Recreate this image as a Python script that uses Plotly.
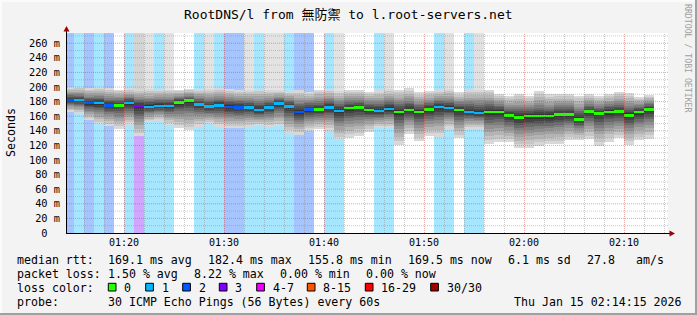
import plotly.graph_objects as go
from datetime import datetime, timedelta

# ---------------- data ----------------
first_bin = "2026-01-15 01:14:00"          # start of first one-minute bin
median_ms = [182.4, 182.0, 177.8, 177.8, 174.8, 175.0, 177.8, 173.8, 172.8, 174.2,
             174.0, 178.5, 181.4, 176.2, 173.0, 174.8, 172.8, 171.9, 171.9, 168.6,
             171.9, 177.2, 173.5, 166.1, 169.0, 169.1, 171.9, 167.4, 171.0, 171.9,
             168.7, 167.3, 170.1, 166.0, 168.7, 166.0, 169.1, 172.3, 171.0, 168.7,
             166.0, 164.6, 166.0, 166.0, 161.0, 158.5, 160.0, 160.0, 160.0, 162.3,
             162.3, 155.8, 166.2, 163.8, 166.0, 166.2, 161.0, 165.8, 169.5]
rtt_max = [200.0, 200.5, 199.0, 200.0, 198.4, 196.6, 198.4, 196.6, 197.0, 196.6,
           196.6, 196.6, 197.5, 197.5, 197.5, 198.4, 197.5, 196.6, 195.6, 197.5,
           195.6, 195.6, 194.7, 195.6, 193.8, 196.6, 197.5, 194.7, 196.6, 195.6,
           193.8, 195.6, 197.5, 196.6, 198.2, 192.5, 194.7, 195.6, 197.5, 192.5,
           196.6, 196.6, 196.6, 191.0, 188.3, 191.1, 188.3, 194.7, 190.2, 191.1,
           191.1, 188.3, 191.1, 187.4, 190.2, 193.8, 192.0, 186.5, 189.2]
rtt_min = [166.0, 163.6, 154.5, 149.0, 146.3, 142.2, 148.1, 132.6, 151.8, 153.6,
           148.1, 143.5, 140.8, 145.4, 149.0, 145.4, 143.5, 143.5, 145.4, 146.3,
           145.4, 146.3, 136.2, 134.4, 139.9, 142.6, 139.9, 127.1, 130.7, 132.6,
           139.0, 143.5, 143.5, 120.7, 136.2, 125.5, 132.6, 131.6, 142.6, 129.8,
           142.6, 142.6, 122.5, 124.3, 124.3, 116.6, 116.6, 119.8, 121.6, 121.6,
           128.0, 127.0, 128.9, 118.9, 125.2, 129.8, 120.7, 127.0, 128.9]
loss = [2, 1, 2, 1, 2, 0, 1, 3, 1, 1,
        1, 0, 0, 1, 1, 1, 2, 2, 1, 1,
        1, 1, 1, 2, 2, 0, 1, 1, 0, 0,
        0, 1, 1, 0, 0, 0, 0, 1, 1, 0,
        1, 1, 0, 0, 0, 0, 0, 0, 0, 0,
        0, 0, 0, 0, 0, 0, 0, 0, 0]
# grey level of the area above the smoke (0 = none)
upper_gray = [0, 0, 0, 0, 0, 0, 0, 212, 227, 0,
              227, 0, 0, 0, 227, 0, 0, 0, 227, 0,
              227, 227, 0, 0, 0, 0, 0, 227, 0, 0,
              0, 0, 225, 0, 0, 0, 0, 0, 225, 0,
              0, 225, 0, 0, 0, 0, 0, 0, 0, 0,
              0, 0, 0, 0, 0, 0, 0, 0, 0]
y_tick_vals = [0, 20, 40, 60, 80, 100, 120, 140, 160, 180, 200, 220, 240, 260]
y_tick_text = ["0\u00a0\u00a0", "20 m", "40 m", "60 m", "80 m", "100 m", "120 m", "140 m",
               "160 m", "180 m", "200 m", "220 m", "240 m", "260 m"]
x_tick_times = ["2026-01-15 01:20", "2026-01-15 01:30", "2026-01-15 01:40",
                "2026-01-15 01:50", "2026-01-15 02:00", "2026-01-15 02:10"]
loss_labels = ["0", "1", "2", "3", "4-7", "8-15", "16-29", "30/30"]
loss_colors = ["#26ff00", "#00b8ff", "#0059ff", "#7e00ff", "#ee00ff", "#ff5500", "#ff0000", "#a10000"]

# ---------------- geometry / style ----------------
W, H = 697, 315
L, T, PW, PH = 67, 33, 601, 200
Y_TOP = 274.0
FONT = "DejaVu Sans Mono, Noto Sans CJK TC, monospace"


def bg_of(hexcol, a=0.35):
    h = hexcol.lstrip('#')
    r, g, b = int(h[0:2], 16), int(h[2:4], 16), int(h[4:6], 16)
    f = lambda c: round(255 * (1 - a) + c * a)
    return "rgb(%d,%d,%d)" % (f(r), f(g), f(b))


def px(xp):
    return (xp - L) / PW


def py(yp):
    return (T + PH - yp) / PH


t0 = datetime.strptime(first_bin, "%Y-%m-%d %H:%M:%S")
times = [t0 + timedelta(seconds=30 + 60 * i) for i in range(len(median_ms))]
x_start = datetime(2026, 1, 15, 1, 14, 18)
x_end = x_start + timedelta(seconds=PW * 6)   # 10 px per minute

fig = go.Figure()


def add_bar(base, height, colors):
    fig.add_trace(go.Bar(x=times, y=height, base=base, width=60000,
                         marker=dict(color=colors, line=dict(width=0)),
                         hoverinfo='skip', showlegend=False))


# loss background (full height)
add_bar([0] * len(times), [Y_TOP] * len(times),
        ["#ffffff" if l == 0 else bg_of(loss_colors[l]) for l in loss])
# area above smoke
add_bar(rtt_max, [Y_TOP - m for m in rtt_max],
        [("rgb(%d,%d,%d)" % (g, g, g)) if g else ("#ffffff" if l == 0 else bg_of(loss_colors[l]))
         for g, l in zip(upper_gray, loss)])
# smoke layers (outer light -> inner dark)
fracs = [1.0, 0.88, 0.76, 0.64, 0.53, 0.43, 0.34, 0.25, 0.17, 0.09]
grays = [0xd8, 0xc6, 0xb4, 0xa2, 0x90, 0x7e, 0x6a, 0x56, 0x44, 0x34]
for f, g in zip(fracs, grays):
    lo = [m - f * (m - mn) for m, mn in zip(median_ms, rtt_min)]
    hi = [m + f * (mx - m) for m, mx in zip(median_ms, rtt_max)]
    add_bar(lo, [h - l for h, l in zip(hi, lo)], "rgb(%d,%d,%d)" % (g, g, g))
# median markers
hw = 1.25 * Y_TOP / PH
add_bar([m - hw for m in median_ms], [2 * hw] * len(median_ms), [loss_colors[l] for l in loss])

shapes = []
# grid on top
minor_c = "rgba(128,128,128,0.42)"
major_c = "rgba(200,60,60,0.45)"
for v in range(10, int(Y_TOP) + 1, 10):
    shapes.append(dict(type='line', xref='x', yref='y', x0=x_start, x1=x_end, y0=v, y1=v,
                       line=dict(color=major_c if v % 20 == 0 else minor_c, width=1, dash="1px,1px"),
                       layer='above'))
gt = datetime(2026, 1, 15, 1, 16)
while gt < x_end:
    xx = gt + timedelta(seconds=3)
    shapes.append(dict(type='line', xref='x', yref='y', x0=xx, x1=xx, y0=0, y1=Y_TOP,
                       line=dict(color=major_c if gt.minute % 10 == 0 else minor_c, width=1, dash="1px,1px"),
                       layer='above'))
    gt += timedelta(minutes=2)

# axis extensions & arrows
shapes.append(dict(type='line', xref='paper', yref='paper', x0=px(66.5), x1=px(66.5), y0=py(233), y1=py(29),
                   line=dict(color='black', width=1)))
shapes.append(dict(type='path', xref='paper', yref='paper',
                   path="M %f,%f L %f,%f L %f,%f Z" % (px(66.5), py(26.0), px(63.5), py(31.5), px(69.5), py(31.5)),
                   fillcolor='#a00000', line=dict(width=0)))
shapes.append(dict(type='line', xref='paper', yref='paper', x0=px(667), x1=px(671), y0=py(233.5), y1=py(233.5),
                   line=dict(color='black', width=1)))
shapes.append(dict(type='path', xref='paper', yref='paper',
                   path="M %f,%f L %f,%f L %f,%f Z" % (px(675), py(233.5), px(669.5), py(230.5), px(669.5), py(236.5)),
                   fillcolor='#a00000', line=dict(width=0)))

# frame
shapes.append(dict(type='rect', xref='paper', yref='paper', x0=px(0), x1=px(W), y0=py(H - 2), y1=py(H),
                   fillcolor='#a0a0a0', line=dict(width=0)))
shapes.append(dict(type='rect', xref='paper', yref='paper', x0=px(W - 2), x1=px(W), y0=py(0), y1=py(H),
                   fillcolor='#a0a0a0', line=dict(width=0)))
shapes.append(dict(type='rect', xref='paper', yref='paper', x0=px(0), x1=px(W - 2), y0=py(0), y1=py(2),
                   fillcolor='#fbfbfb', line=dict(width=0)))
shapes.append(dict(type='rect', xref='paper', yref='paper', x0=px(0), x1=px(2), y0=py(0), y1=py(H - 2),
                   fillcolor='#fbfbfb', line=dict(width=0)))

annotations = []


def text(xp, yp, s, size=11.6, anchor='left', angle=0, color='#000000'):
    annotations.append(dict(x=px(xp), y=py(yp), xref='paper', yref='paper', text=s, showarrow=False,
                            xanchor=anchor, yanchor='middle', textangle=angle, borderpad=0,
                            font=dict(family=FONT, size=size, color=color)))


text(348.5, 14, "RootDNS/l from 無防禦 to l.root-servers.net", size=13, anchor='center')
text(10.5, 132.5, "Seconds", size=11.6, anchor='center', angle=-90)
text(688, 58, "RRDTOOL / TOBI OETIKER", size=8.2, anchor='center', angle=90, color='#a0a0a0')

r1, r2, r3, r4 = 259.8, 273.8, 287.8, 301.8
text(16, r1, "median rtt:")
for xp, s in [(107.3, "169.1 ms avg"), (207.3, "182.4 ms max"), (307.3, "155.8 ms min"),
              (407.3, "169.5 ms now"), (507.3, "6.1 ms sd"), (586, "27.8"), (635.3, "am/s")]:
    text(xp, r1, s)
text(16, r2, "packet loss:")
for xp, s in [(107.3, "1.50 % avg"), (192.7, "8.22 % max"), (278.7, "0.00 % min"), (365, "0.00 % now")]:
    text(xp, r2, s)
text(16, r3, "loss color:")
box_x = [108.3, 145.7, 182.7, 219.3, 256.7, 307.3, 365.3, 430.7]
for bx, lab, col in zip(box_x, loss_labels, loss_colors):
    shapes.append(dict(type='rect', xref='paper', yref='paper', x0=px(bx), x1=px(bx + 7.7),
                       y0=py(291), y1=py(283.3), fillcolor=col, line=dict(color='black', width=1)))
    text(bx + 15, r3, lab)
text(16, r4, "probe:")
text(107.3, r4, "30 ICMP Echo Pings (56 Bytes) every 60s")
text(512.7, r4, "Thu Jan 15 02:14:15 2026")

fig.update_layout(
    width=W, height=H, margin=dict(l=L, r=W - L - PW, t=T, b=H - T - PH, pad=0),
    paper_bgcolor='#f3f3f3', plot_bgcolor='#ffffff', barmode='overlay', bargap=0,
    showlegend=False, shapes=shapes, annotations=annotations,
    font=dict(family=FONT, size=10, color='#000000'),
    xaxis=dict(type='date', range=[x_start, x_end], tickvals=x_tick_times, tickformat='%H:%M',
               showgrid=False, zeroline=False, showline=True, linecolor='black', linewidth=1,
               ticks='', tickfont=dict(family=FONT, size=10, color='#000000'), fixedrange=True),
    yaxis=dict(range=[0, Y_TOP], tickvals=y_tick_vals, ticktext=y_tick_text,
               showgrid=False, zeroline=False, showline=True, linecolor='black', linewidth=1,
               ticks='', ticklabelstandoff=4, tickfont=dict(family=FONT, size=10.3, color='#000000'),
               fixedrange=True),
)

fig.write_html("out.html")
